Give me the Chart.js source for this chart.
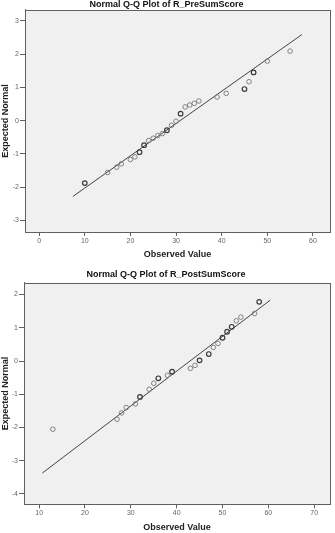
<!DOCTYPE html>
<html>
<head>
<meta charset="utf-8">
<script src="https://cdn.jsdelivr.net/npm/chart.js@4/dist/chart.umd.min.js"></script>
<style>
  body { margin: 0; background: #fff; width: 335px; height: 533px; overflow: hidden; }
  .box { position: absolute; left: 0; }
  #pre-box { top: 0; }
  #post-box { top: 260px; }
</style>
</head>
<body>
<div class="box" id="pre-box"><canvas id="preChart" width="335" height="260"></canvas></div>
<div class="box" id="post-box"><canvas id="postChart" width="335" height="273"></canvas></div>
<script>
// R_PreSumScore: observed value vs expected normal
const preX = [10, 15, 17, 18, 20, 21, 22, 23, 24, 25, 26, 27, 28, 29, 30, 31, 32, 33, 34, 35, 39, 41, 45, 46, 47, 50, 55];
const preY = [-1.88, -1.56, -1.40, -1.30, -1.17, -1.09, -0.95, -0.74, -0.60, -0.53, -0.45, -0.39, -0.29, -0.14, -0.02, 0.21, 0.41, 0.47, 0.52, 0.59, 0.71, 0.82, 0.95, 1.17, 1.45, 1.79, 2.09];
const preTies = [2, 1, 1, 1, 1, 1, 2, 2, 1, 1, 1, 1, 2, 1, 1, 2, 1, 1, 1, 1, 1, 1, 2, 1, 2, 1, 1];
const preLineX = [7.4, 57.6];
const preLineY = [-2.28, 2.59];
const preTicksX = [0, 10, 20, 30, 40, 50, 60];
const preTicksY = [-3, -2, -1, 0, 1, 2, 3];

// R_PostSumScore
const postX = [13, 27, 28, 29, 31, 32, 34, 35, 36, 38, 39, 43, 44, 45, 47, 48, 49, 50, 51, 52, 53, 54, 57, 58];
const postY = [-2.05, -1.75, -1.56, -1.40, -1.29, -1.08, -0.85, -0.67, -0.52, -0.43, -0.32, -0.22, -0.13, 0.02, 0.21, 0.41, 0.53, 0.70, 0.88, 1.03, 1.21, 1.32, 1.43, 1.78];
const postTies = [1, 1, 1, 1, 1, 2, 1, 1, 2, 1, 2, 1, 1, 2, 2, 1, 1, 2, 2, 2, 1, 1, 1, 2];
const postLineX = [10.7, 60.4];
const postLineY = [-3.37, 1.83];
const postTicksX = [10, 20, 30, 40, 50, 60, 70];
const postTicksY = [-4, -3, -2, -1, 0, 1, 2];

const FONT = "'Liberation Sans', Arial, sans-serif";

// grey plot background + frame like SPSS
const plotFrame = {
    id: 'plotFrame',
    beforeDatasetsDraw(chart) {
        const { ctx, chartArea: a } = chart;
        ctx.save();
        ctx.fillStyle = '#f0f0f0';
        ctx.fillRect(a.left, a.top, a.right - a.left, a.bottom - a.top);
        ctx.strokeStyle = '#606060';
        ctx.lineWidth = 1;
        ctx.strokeRect(Math.round(a.left) + 0.5, Math.round(a.top) + 0.5,
            Math.round(a.right - a.left), Math.round(a.bottom - a.top));
        ctx.restore();
    }
};

function qqChart(id, cfg) {
    const pts = cfg.x.map((x, i) => ({ x, y: cfg.y[i] }));
    const line = cfg.lineX.map((x, i) => ({ x, y: cfg.lineY[i] }));
    return new Chart(document.getElementById(id), { // eslint-disable-line
        type: 'scatter',
        data: {
            datasets: [{
                data: pts,
                pointStyle: 'circle',
                pointRadius: 2.3,
                backgroundColor: 'rgba(0,0,0,0)',
                borderColor: cfg.ties.map(t => t > 1 ? '#3c3c3c' : '#777'),
                borderWidth: cfg.ties.map(t => t > 1 ? 1.2 : 0.9),
                order: 1
            },
            {
                type: 'line',
                data: line,
                borderColor: '#444',
                borderWidth: 1,
                pointRadius: 0,
                fill: false,
                order: 2
            }]
        },
        options: {
            responsive: false,
            animation: false,
            devicePixelRatio: 1,
            layout: { padding: { left: 0, right: cfg.padRight, top: 0, bottom: 0 } },
            plugins: {
                legend: { display: false },
                tooltip: { enabled: false },
                title: {
                    display: true,
                    text: cfg.title,
                    color: '#111',
                    font: { family: FONT, size: 9, weight: 'bold', lineHeight: 1.1 },
                    padding: cfg.titlePad
                }
            },
            scales: {
                x: {
                    type: 'linear',
                    min: cfg.xMin,
                    max: cfg.xMax,
                    afterBuildTicks: s => { s.ticks = cfg.ticksX.map(v => ({ value: v })); },
                    afterFit: s => { s.height = cfg.xHeight; },
                    grid: { drawOnChartArea: false, drawTicks: true, tickLength: 4, color: '#606060' },
                    border: { display: true, color: '#606060' },
                    ticks: { color: '#666', font: { family: FONT, size: 7 }, padding: 1, maxRotation: 0 },
                    title: {
                        display: true,
                        text: 'Observed Value',
                        color: '#222',
                        font: { family: FONT, size: 9, weight: 'bold' },
                        padding: { top: 3, bottom: 0 }
                    }
                },
                y: {
                    type: 'linear',
                    min: cfg.yMin,
                    max: cfg.yMax,
                    afterBuildTicks: s => { s.ticks = cfg.ticksY.map(v => ({ value: v })); },
                    afterFit: s => { s.width = cfg.yWidth; },
                    grid: { drawOnChartArea: false, drawTicks: true, tickLength: 5, color: '#606060' },
                    border: { display: true, color: '#606060' },
                    ticks: { color: '#666', font: { family: FONT, size: 7 }, padding: 1 },
                    title: {
                        display: true,
                        text: 'Expected Normal',
                        color: '#222',
                        font: { family: FONT, size: 9, weight: 'bold' },
                        padding: { top: 0, bottom: 0 }
                    }
                }
            }
        },
        plugins: [plotFrame]
    });
}

qqChart('preChart', {
    title: 'Normal Q-Q Plot of R_PreSumScore',
    x: preX, y: preY, ties: preTies,
    lineX: preLineX, lineY: preLineY,
    ticksX: preTicksX, ticksY: preTicksY,
    xMin: -3.1, xMax: 63.7, yMin: -3.35, yMax: 3.33,
    titlePad: { top: 0, bottom: 0 },
    xHeight: 28, yWidth: 25, padRight: 2
});

qqChart('postChart', {
    title: 'Normal Q-Q Plot of R_PostSumScore',
    x: postX, y: postY, ties: postTies,
    lineX: postLineX, lineY: postLineY,
    ticksX: postTicksX, ticksY: postTicksY,
    xMin: 6.7, xMax: 73.4, yMin: -4.31, yMax: 2.35,
    titlePad: { top: 10, bottom: 3 },
    xHeight: 28.7, yWidth: 24, padRight: 3
});
</script>
</body>
</html>
